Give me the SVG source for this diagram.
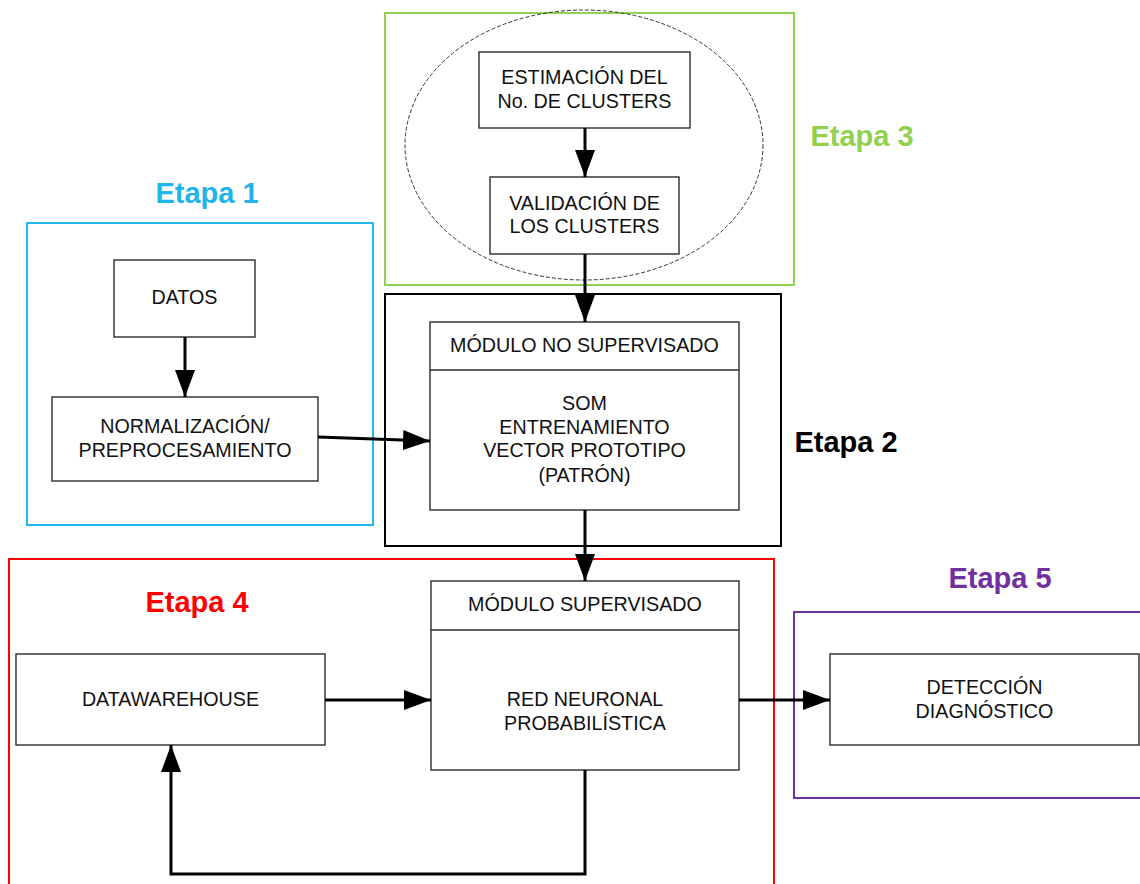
<svg xmlns="http://www.w3.org/2000/svg" width="1140" height="884" viewBox="0 0 1140 884">
  <style>
    .box { fill: #ffffff; stroke: #2b2b2b; stroke-width: 1.4; }
    .lbl { font-family: "Liberation Sans", Arial, sans-serif; font-size: 19.7px; fill: #111111; text-anchor: middle; }
    .stage { font-family: "Liberation Sans", Arial, sans-serif; font-size: 29px; font-weight: bold; text-anchor: middle; }
    .frame { fill: none; stroke-width: 2; }
    .wire { fill: none; stroke: #000000; stroke-width: 3; }
  </style>
  <defs>
    <marker id="arrow" viewBox="0 0 27 20" refX="27" refY="10" markerWidth="27" markerHeight="20" markerUnits="userSpaceOnUse" orient="auto">
      <path d="M0,0 L27,10 L0,20 Z" fill="#000000"/>
    </marker>
  </defs>
  <rect width="1140" height="884" fill="#ffffff"/>

  <!-- stage frames -->
  <g id="stage3">
    <rect class="frame" x="385" y="13" width="409" height="272" stroke="#92D050"/>
    <ellipse cx="584" cy="145" rx="179" ry="135" fill="none" stroke="#333333" stroke-width="1" stroke-dasharray="4 2"/>
    <text class="stage" x="862" y="146" fill="#92D050">Etapa 3</text>
  </g>
  <g id="stage1">
    <rect class="frame" x="27" y="223" width="346" height="302" stroke="#1FB4EA"/>
    <text class="stage" x="207" y="203" fill="#1FB4EA">Etapa 1</text>
  </g>
  <g id="stage2">
    <rect class="frame" x="385" y="294" width="396" height="252" stroke="#000000"/>
    <text class="stage" x="846" y="452" fill="#000000">Etapa 2</text>
  </g>
  <g id="stage4">
    <rect class="frame" x="9" y="559" width="765" height="340" stroke="#FF0000"/>
    <text class="stage" x="197" y="612" fill="#FF0000">Etapa 4</text>
  </g>
  <g id="stage5">
    <rect class="frame" x="794" y="612" width="360" height="186" stroke="#7030A0"/>
    <text class="stage" x="1000" y="588" fill="#7030A0">Etapa 5</text>
  </g>

  <!-- process nodes -->
  <g id="estimacion">
    <rect class="box" x="479" y="52" width="211" height="76"/>
    <text class="lbl" x="584.5" y="84">ESTIMACIÓN DEL</text>
    <text class="lbl" x="584.5" y="108">No. DE CLUSTERS</text>
  </g>
  <g id="validacion">
    <rect class="box" x="490" y="177" width="189" height="77"/>
    <text class="lbl" x="584.5" y="210">VALIDACIÓN DE</text>
    <text class="lbl" x="584.5" y="233">LOS CLUSTERS</text>
  </g>
  <g id="datos">
    <rect class="box" x="114" y="260" width="141" height="77"/>
    <text class="lbl" x="184.5" y="304">DATOS</text>
  </g>
  <g id="normalizacion">
    <rect class="box" x="52" y="397" width="266" height="84"/>
    <text class="lbl" x="185" y="433">NORMALIZACIÓN/</text>
    <text class="lbl" x="185" y="457">PREPROCESAMIENTO</text>
  </g>
  <g id="modulo-no-supervisado">
    <rect class="box" x="430" y="322" width="309" height="188"/>
    <line x1="430" y1="370" x2="739" y2="370" stroke="#2b2b2b" stroke-width="1.4"/>
    <text class="lbl" x="584.5" y="352">MÓDULO NO SUPERVISADO</text>
    <text class="lbl" x="584.5" y="410">SOM</text>
    <text class="lbl" x="584.5" y="434">ENTRENAMIENTO</text>
    <text class="lbl" x="584.5" y="457">VECTOR PROTOTIPO</text>
    <text class="lbl" x="584.5" y="482">(PATRÓN)</text>
  </g>
  <g id="modulo-supervisado">
    <rect class="box" x="431" y="581" width="308" height="189"/>
    <line x1="431" y1="630" x2="739" y2="630" stroke="#2b2b2b" stroke-width="1.4"/>
    <text class="lbl" x="585" y="611">MÓDULO SUPERVISADO</text>
    <text class="lbl" x="585" y="706">RED NEURONAL</text>
    <text class="lbl" x="585" y="730">PROBABILÍSTICA</text>
  </g>
  <g id="datawarehouse">
    <rect class="box" x="16" y="654" width="309" height="91"/>
    <text class="lbl" x="170.5" y="706">DATAWAREHOUSE</text>
  </g>
  <g id="deteccion">
    <rect class="box" x="830" y="654" width="309" height="91"/>
    <text class="lbl" x="984.5" y="694">DETECCIÓN</text>
    <text class="lbl" x="984.5" y="718">DIAGNÓSTICO</text>
  </g>

  <!-- connectors -->
  <g id="connectors">
    <line class="wire" x1="585" y1="128" x2="585" y2="177" marker-end="url(#arrow)"/>
    <line class="wire" x1="585" y1="254" x2="585" y2="322" marker-end="url(#arrow)"/>
    <line class="wire" x1="185" y1="337" x2="185" y2="397" marker-end="url(#arrow)"/>
    <line class="wire" x1="318" y1="437" x2="430" y2="441" marker-end="url(#arrow)"/>
    <line class="wire" x1="585" y1="510" x2="585" y2="581" marker-end="url(#arrow)"/>
    <line class="wire" x1="325" y1="700" x2="431" y2="700" marker-end="url(#arrow)"/>
    <line class="wire" x1="739" y1="700" x2="830" y2="700" marker-end="url(#arrow)"/>
    <polyline class="wire" points="585,770 585,874 171,874 171,745" marker-end="url(#arrow)"/>
  </g>
</svg>
